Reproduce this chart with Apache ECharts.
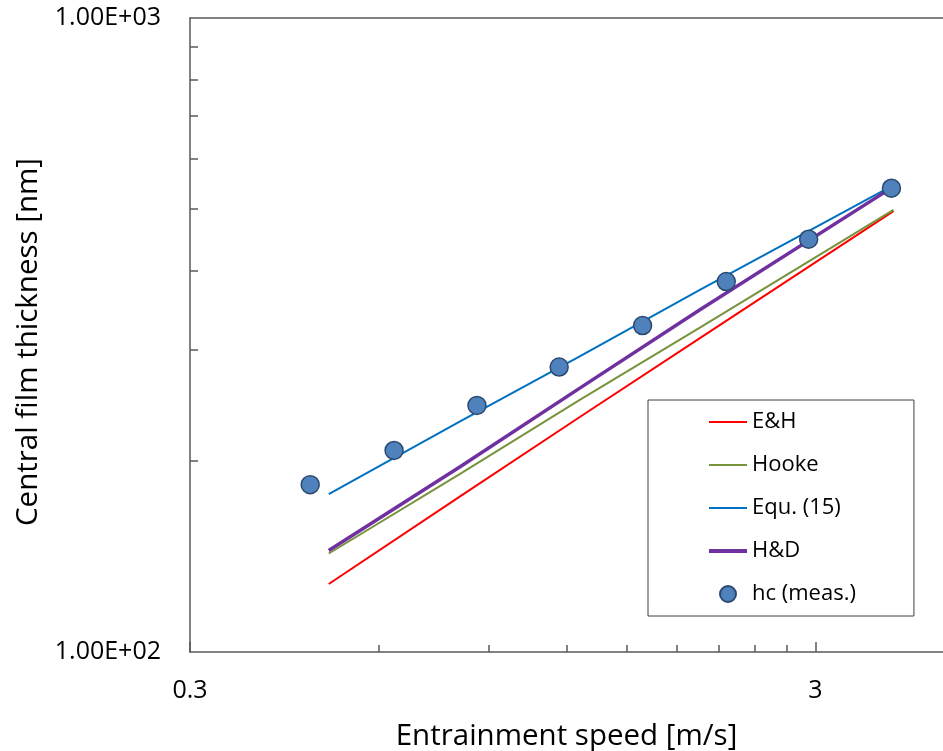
<!DOCTYPE html>
<html lang="en">
<head>
    <meta charset="UTF-8">
    <title>Central film thickness</title>
    <script src="https://cdn.jsdelivr.net/npm/echarts@6.0.0/dist/echarts.min.js"></script>
    <style>
        html, body { margin: 0; padding: 0; background: #fff; }
        #chart { width: 943px; height: 751px; }
    </style>
</head>
<body>
<div id="chart"></div>
<script type="application/javascript">
    // speeds [m/s] where the model curves were read
    var lineSpeed = [0.5, 0.811, 1.262, 1.964, 4.0];
    var ehThickness = [128, 176, 235, 313, 496];
    var hookeThickness = [143, 191, 250, 325, 498];
    var eq15Thickness = [177.5, 231, 293, 373, 545];
    var hdThickness = [144.6, 196, 261, 347, 542];

    // measured central film thickness
    var measSpeed = [0.467, 0.636, 0.863, 1.168, 1.588, 2.161, 2.927, 3.97];
    var measThickness = [183.6, 207.9, 244.9, 281.5, 327.3, 384, 447.8, 538.9];

    // axis ticks / labels
    var xLabelValues = [0.3, 3];
    var xLabelTexts = ['0.3', '3'];
    var xMinorTicks = [0.6, 0.9, 1.2, 1.5, 1.8, 2.1, 2.4, 2.7];
    var yLabelValues = [100, 1000];
    var yLabelTexts = ['1.00E+02', '1.00E+03'];
    var yMinorTicks = [200, 300, 400, 500, 600, 700, 800, 900];

    function pairs(xs, ys) {
        return xs.map(function (x, i) { return [x, ys[i]]; });
    }
    function pickLabel(values, texts) {
        return function (v) {
            var best = 0;
            for (var i = 1; i < values.length; i++) {
                if (Math.abs(values[i] - v) < Math.abs(values[best] - v)) best = i;
            }
            return texts[best];
        };
    }

    var font = 'Open Sans';
    var axisColor = '#595959';
    var thinLine = 'path://M0,0H38V2H0Z';
    var thickLine = 'path://M0,0H38V4H0Z';

    var chart = echarts.init(document.getElementById('chart'));
    var option = {
        backgroundColor: '#fff',
        animation: false,
        grid: {
            left: 190,
            top: 18,
            right: 0,
            height: 634,
            show: false,
            outerBoundsMode: 'none'
        },
        legend: {
            orient: 'vertical',
            left: 648,
            top: 400,
            padding: [10, 58, 10, 61],
            itemGap: 19,
            itemWidth: 38,
            itemHeight: 16,
            backgroundColor: '#fff',
            borderColor: '#404040',
            borderWidth: 1,
            borderRadius: 0,
            textStyle: {fontFamily: font, fontSize: 22, color: '#000', lineHeight: 24},
            data: [
                {name: 'E&H', icon: thinLine},
                {name: 'Hooke', icon: thinLine},
                {name: 'Equ. (15)', icon: thinLine},
                {name: 'H&D', icon: thickLine},
                {name: 'hc (meas.)', icon: 'circle'}
            ]
        },
        xAxis: [{
            type: 'log',
            logBase: 10,
            min: 0.3,
            max: 4.8,
            name: 'Entrainment speed [m/s]',
            nameLocation: 'middle',
            nameGap: 70,
            nameTextStyle: {fontFamily: font, fontSize: 29.5, color: '#000'},
            axisLine: {show: true, lineStyle: {color: axisColor, width: 1.5}},
            axisTick: {show: true, inside: true, length: 7, lineStyle: {color: axisColor, width: 1.5},
                customValues: xMinorTicks},
            axisLabel: {show: true, margin: 26, fontFamily: font, fontSize: 25, color: '#000',
                customValues: xLabelValues, formatter: pickLabel(xLabelValues, xLabelTexts)},
            splitLine: {show: false},
            minorTick: {show: false}
        }, {
            type: 'log',
            logBase: 10,
            min: 0.3,
            max: 4.8,
            position: 'bottom',
            axisLine: {show: false},
            axisTick: {show: true, inside: true, length: 10, lineStyle: {color: axisColor, width: 1.5},
                customValues: xLabelValues},
            axisLabel: {show: false},
            splitLine: {show: false}
        }, {
            type: 'log',
            logBase: 10,
            min: 0.3,
            max: 4.8,
            position: 'top',
            axisLine: {show: true, lineStyle: {color: axisColor, width: 1.5}},
            axisTick: {show: false},
            axisLabel: {show: false},
            splitLine: {show: false}
        }],
        yAxis: {
            type: 'log',
            logBase: 10,
            min: 100,
            max: 1000,
            name: 'Central film thickness [nm]',
            nameLocation: 'middle',
            nameGap: 146,
            nameTextStyle: {fontFamily: font, fontSize: 29.5, color: '#000', padding: [0, 14, 0, 0]},
            axisLine: {show: true, lineStyle: {color: axisColor, width: 1.5}},
            axisTick: {show: true, inside: true, length: 8, lineStyle: {color: axisColor, width: 1.5},
                customValues: yMinorTicks},
            axisLabel: {show: true, margin: 29, fontFamily: font, fontSize: 25, color: '#000',
                customValues: yLabelValues, formatter: pickLabel(yLabelValues, yLabelTexts)},
            splitLine: {show: false},
            minorTick: {show: false}
        },
        series: [{
            name: 'E&H',
            type: 'line',
            symbol: 'none',
            color: '#ff0000',
            lineStyle: {width: 2, color: '#ff0000'},
            data: pairs(lineSpeed, ehThickness)
        }, {
            name: 'Hooke',
            type: 'line',
            symbol: 'none',
            color: '#77933c',
            lineStyle: {width: 2, color: '#77933c'},
            data: pairs(lineSpeed, hookeThickness)
        }, {
            name: 'Equ. (15)',
            type: 'line',
            symbol: 'none',
            color: '#0070c0',
            lineStyle: {width: 2, color: '#0070c0'},
            data: pairs(lineSpeed, eq15Thickness)
        }, {
            name: 'H&D',
            type: 'line',
            symbol: 'none',
            color: '#7030a0',
            lineStyle: {width: 3.5, color: '#7030a0'},
            data: pairs(lineSpeed, hdThickness)
        }, {
            name: 'hc (meas.)',
            type: 'scatter',
            symbol: 'circle',
            symbolSize: 18,
            z: 5,
            itemStyle: {color: '#4f81bd', borderColor: '#2b4a70', borderWidth: 1.5, opacity: 1},
            data: pairs(measSpeed, measThickness)
        }]
    };
    chart.setOption(option);
</script>
</body>
</html>
